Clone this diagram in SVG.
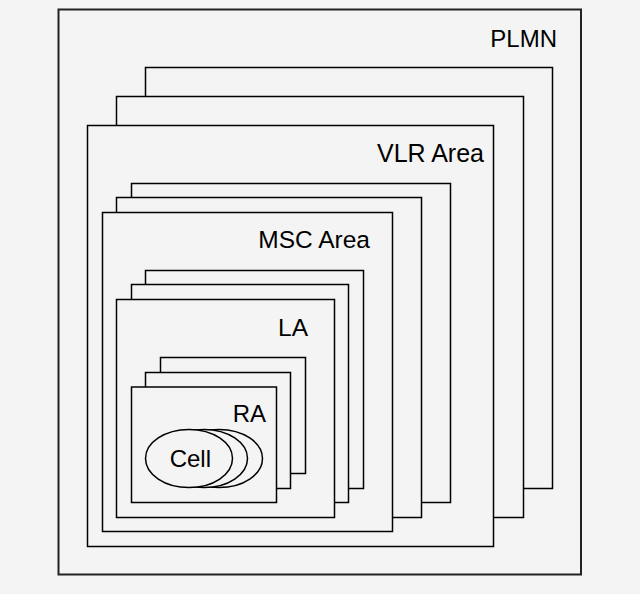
<svg xmlns="http://www.w3.org/2000/svg" width="640" height="594" viewBox="0 0 640 594">
<style>
  .bg { fill: #f4f4f4; }
  .box { fill: #f4f4f4; stroke: #000; stroke-width: 1.5; }
  .outer { fill: #f4f4f4; stroke: #222; stroke-width: 2; }
  .cell { fill: #f4f4f4; stroke: #000; stroke-width: 1.5; }
  .lbl { font-family: "Liberation Sans", Arial, sans-serif; font-size: 24px; fill: #000; text-anchor: end; }
</style>
<rect class="bg" x="0" y="0" width="640" height="594"/>
<g id="plmn">
  <rect class="outer" x="58.5" y="9.5" width="522.5" height="565"/>
  <text class="lbl" x="557" y="47">PLMN</text>
</g>
<g id="vlr-area">
  <rect class="box" x="145.5" y="67.5" width="407" height="421"/>
  <rect class="box" x="116.5" y="96.5" width="407" height="421"/>
  <rect class="box" x="87.5" y="125.5" width="406" height="421"/>
  <text class="lbl" x="484" y="162" style="font-size:25px">VLR Area</text>
</g>
<g id="msc-area">
  <rect class="box" x="131.5" y="183.5" width="319" height="319"/>
  <rect class="box" x="116.5" y="197.5" width="305" height="320"/>
  <rect class="box" x="102.5" y="212.5" width="290" height="319"/>
  <text class="lbl" x="370" y="248" style="font-size:24.5px">MSC Area</text>
</g>
<g id="la">
  <rect class="box" x="145.5" y="270.5" width="218" height="218"/>
  <rect class="box" x="131.5" y="284.5" width="217" height="218"/>
  <rect class="box" x="116.5" y="299.5" width="218" height="218"/>
  <text class="lbl" x="308" y="336" style="font-size:24.5px">LA</text>
</g>
<g id="ra">
  <rect class="box" x="160.5" y="357.5" width="145" height="116"/>
  <rect class="box" x="145.5" y="372.5" width="145" height="116"/>
  <rect class="box" x="131.5" y="387" width="145" height="115.5"/>
  <text class="lbl" x="266" y="422">RA</text>
</g>
<g id="cell">
  <ellipse class="cell" cx="219" cy="458.5" rx="43.5" ry="29"/>
  <ellipse class="cell" cx="204" cy="458.5" rx="43.5" ry="29"/>
  <ellipse class="cell" cx="189" cy="458.5" rx="43.5" ry="29"/>
  <text class="lbl" x="211" y="467">Cell</text>
</g>
<g id="connectors"></g>
</svg>
